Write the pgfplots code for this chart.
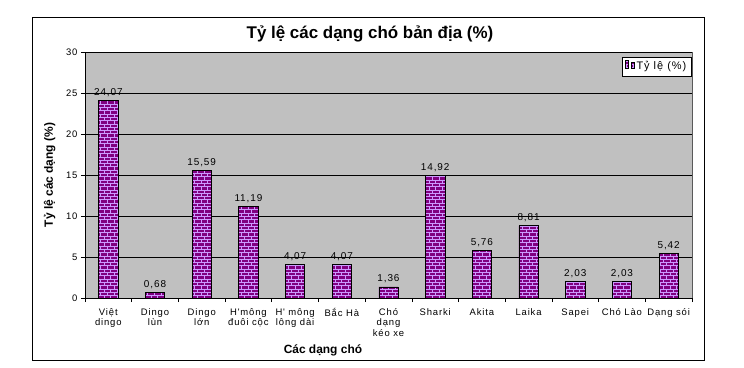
\documentclass[border=0pt]{standalone}
\usepackage{pgfplots}
\pgfplotsset{compat=1.18}
\usepackage{fontspec}
\setmainfont{Liberation Sans}
\newfontfamily\xl[LetterSpace=9]{Liberation Sans}
\usetikzlibrary{patterns}
\definecolor{plotbg}{RGB}{192,192,192}
\definecolor{barpurple}{RGB}{128,0,128}
\definecolor{brickline}{RGB}{204,153,255}
\pgfdeclarepatternformonly{mybricks}{\pgfpoint{-0.5bp}{-0.5bp}}{\pgfpoint{7.2bp}{7.2bp}}{\pgfpoint{6.7bp}{6.6bp}}{%
  \pgfsetlinewidth{0.45bp}%
  \pgfpathmoveto{\pgfpoint{0bp}{0bp}}\pgfpathlineto{\pgfpoint{6.7bp}{0bp}}%
  \pgfpathmoveto{\pgfpoint{0bp}{3.3bp}}\pgfpathlineto{\pgfpoint{6.7bp}{3.3bp}}%
  \pgfpathmoveto{\pgfpoint{0bp}{0bp}}\pgfpathlineto{\pgfpoint{0bp}{3.3bp}}%
  \pgfpathmoveto{\pgfpoint{3.35bp}{3.3bp}}\pgfpathlineto{\pgfpoint{3.35bp}{6.6bp}}%
  \pgfusepath{stroke}}
\pgfplotsset{/pgf/number format/assume math mode=true}
\begin{document}
\begin{tikzpicture}
\begin{axis}[
  scale only axis,
  width=607bp, height=246bp,
  xmin=-0.5, xmax=12.5,
  ymin=0, ymax=30,
  ytick={0,5,...,30},
  xtick={0,...,12},
  xticklabels={{Việt\\dingo},{Dingo\\lùn},{Dingo\\lớn},{H'mông\\đuôi cộc},{H' mông\\lông dài},{Bắc Hà},{Chó\\dạng\\kéo xe},{Sharki},{Akita},{Laika},{Sapei},{Chó Lào},{Dạng sói}},
  minor xtick={-0.5,0.5,...,12.5},
  major x tick style={draw=none},
  minor x tick style={black, line width=0.6bp},
  y tick style={black, line width=0.6bp},
  tick align=outside,
  major tick length=4bp,
  minor tick length=4bp,
  axis x line*=bottom,
  axis y line*=left,
  axis line style={black, line width=0.7bp},
  axis background/.style={fill=plotbg, draw=gray!70!black},
  ymajorgrids,
  grid style={black, line width=0.6bp},
  xticklabel style={align=center, font=\xl\fontsize{9.5}{10.5}\selectfont, yshift=-3bp},
  yticklabel style={font=\xl\fontsize{9.5}{10}\selectfont},
  ylabel={\textbf{Tỷ lệ các dạng (\%)}},
  xlabel={\textbf{Các dạng chó}},
  every axis y label/.style={at={(axis description cs:-0.058,0.5)}, rotate=90, anchor=center, font=\fontsize{12}{14}\selectfont},
  every axis x label/.style={at={(axis description cs:0.392,-0.2114)}, anchor=center, font=\fontsize{12}{14}\selectfont},
  title={\textbf{Tỷ lệ các dạng chó bản địa (\%)}},
  title style={at={(axis description cs:0.4695,1.049)}, anchor=center, font=\fontsize{17}{20}\selectfont},
  legend style={at={(1,1)}, anchor=north east, xshift=-1bp, yshift=-5bp, draw=black, fill=white, font=\xl\fontsize{11}{12}\selectfont, inner sep=2.5bp},
  legend image code/.code={\draw[fill=barpurple, draw=black] (0bp,-3.5bp) rectangle (7bp,3.5bp); \draw[brickline, line width=0.8bp] (1bp,0bp) -- (6bp,0bp) (3.5bp,0bp) -- (3.5bp,-2.5bp);},
  ybar, bar width=19.3bp,
  nodes near coords={\pgfmathprintnumber[fixed,fixed zerofill,precision=2,use comma]{\pgfplotspointmeta}},
  every node near coord/.append style={font=\xl\fontsize{10}{11}\selectfont, black},
]
\addplot[fill=barpurple, draw=black, line width=0.6bp, postaction={pattern=mybricks, pattern color=brickline}] coordinates {
(0,24.07) (1,0.68) (2,15.59) (3,11.19) (4,4.07) (5,4.07) (6,1.36) (7,14.92) (8,5.76) (9,8.81) (10,2.03) (11,2.03) (12,5.42)};
\addlegendentry{Tỷ lệ (\%)}
\end{axis}
\draw[black, line width=0.8bp] (-53bp,-62bp) rectangle (619bp,281bp);
\path (-85bp,-70bp) rectangle (659bp,298bp);
\end{tikzpicture}
\end{document}
